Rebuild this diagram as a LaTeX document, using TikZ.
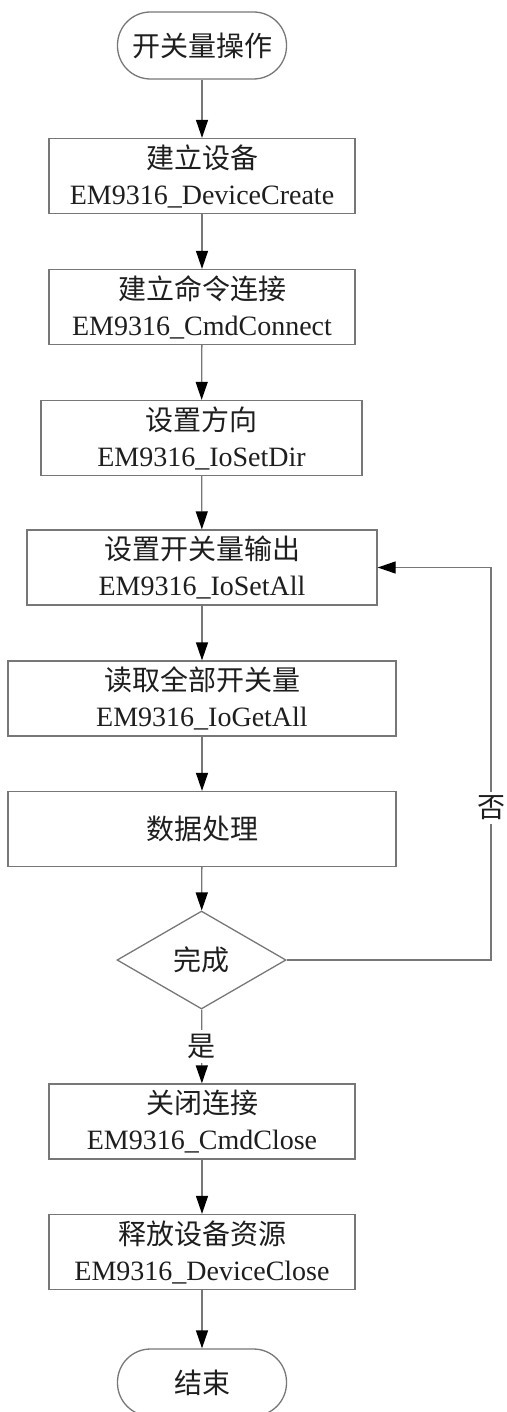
\documentclass[tikz,border=0pt]{standalone}
\usepackage{fontspec}
\setmainfont{Liberation Serif}
\newfontfamily\cjk{Noto Sans CJK SC}
\usetikzlibrary{shapes.geometric,arrows.meta}
\definecolor{linegray}{HTML}{777777}
\definecolor{inkgray}{HTML}{1E1E1E}
\tikzset{
  base/.style={draw=linegray, line width=1.3pt, text=inkgray, align=center,
    inner sep=0pt, font=\fontsize{28}{36}\selectfont},
  procbox/.style={base, rectangle, minimum height=75pt},
  termbox/.style={base, rectangle, rounded corners=33pt, minimum width=169pt, minimum height=67pt},
  decbox/.style={base, diamond, aspect=1.72, minimum width=169pt, minimum height=98pt},
  flow/.style={draw=linegray, line width=1.3pt, -{Triangle[length=18pt,width=12pt,fill=black,color=black]}},
  lbl/.style={fill=white, text=inkgray, inner sep=4pt, font=\fontsize{28}{36}\selectfont\cjk}
}
\begin{document}
\begin{tikzpicture}[x=1pt, y=-1pt]
  \useasboundingbox (0,0) rectangle (506,1412);

  % main column of steps
  \node[termbox] (start) at (202,45.5) {\cjk 开关量操作};
  \node[procbox, minimum width=306pt] (create) at (202,176) {{\cjk 建立设备}\\EM9316\_DeviceCreate};
  \node[procbox, minimum width=306pt] (connect) at (202,307) {{\cjk 建立命令连接}\\EM9316\_CmdConnect};
  \node[procbox, minimum width=321pt] (setdir) at (201.5,438) {{\cjk 设置方向}\\EM9316\_IoSetDir};
  \node[procbox, minimum width=350pt] (setall) at (202,567.5) {{\cjk 设置开关量输出}\\EM9316\_IoSetAll};
  \node[procbox, minimum width=388pt] (getall) at (202,698.5) {{\cjk 读取全部开关量}\\EM9316\_IoGetAll};
  \node[procbox, minimum width=388pt] (proc) at (202,829) {\cjk 数据处理};
  \node[decbox] (done) at (201.5,960) {\cjk 完成};
  \node[procbox, minimum width=306pt] (close) at (202,1121.5) {{\cjk 关闭连接}\\EM9316\_CmdClose};
  \node[procbox, minimum width=306pt] (release) at (202,1252) {{\cjk 释放设备资源}\\EM9316\_DeviceClose};
  \node[termbox] (stop) at (202,1382.5) {\cjk 结束};

  % straight connectors
  \draw[flow] (start) -- (create);
  \draw[flow] (create) -- (connect);
  \draw[flow] (connect) -- (setdir);
  \draw[flow] (setdir) -- (setall);
  \draw[flow] (setall) -- (getall);
  \draw[flow] (getall) -- (proc);
  \draw[flow] (proc) -- (done);
  \draw[flow] (done) -- node[lbl, pos=0.5] (yes) {是} (close);
  \draw[flow] (close) -- (release);
  \draw[flow] (release) -- (stop);

  % loop back when not finished
  \coordinate (turn) at (491,960);
  \draw[flow] (done.east) -- (turn) |- (setall.east);
  \node[lbl] (no) at (491,808) {否};
\end{tikzpicture}
\end{document}
